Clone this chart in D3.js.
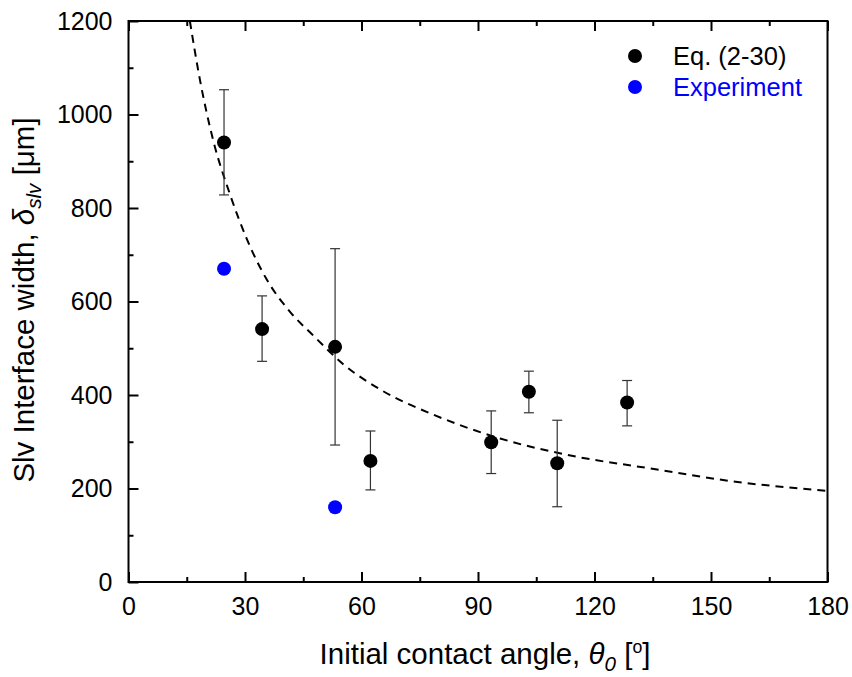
<!DOCTYPE html>
<html>
<head>
<meta charset="utf-8">
<script src="https://cdn.jsdelivr.net/npm/d3@7"></script>
<style>
  html, body { margin: 0; padding: 0; background: #fff; }
  svg { display: block; font-family: Arial, "Liberation Sans", sans-serif; }
</style>
</head>
<body>
<svg id="chart" width="852" height="677"></svg>
<script>
// ---- data ----
const eqTheta = [24.6, 34.4, 53.2, 62.3, 93.4, 103.1, 110.4, 128.4];
const eqValue = [940, 541, 503, 259, 299, 407, 254, 384];
const eqUpper = [1053, 612, 713, 323, 366, 451, 346, 431];
const eqLower = [828, 472, 293, 197, 232, 362, 161, 334];

const expTheta = [24.6, 53.2];
const expValue = [670, 160];

const curveTheta = [15.8, 18.4, 21.8, 26.1, 30.4, 35.6, 41.6, 47.6, 55.3, 65.6, 78.5, 95.7, 115.4, 134.3, 155.8, 180];
const curveValue = [1200, 1074, 945, 830, 735, 647, 578, 527, 466, 408, 358, 307, 268, 243, 215, 195];

const xTicks = [0, 30, 60, 90, 120, 150, 180];
const xMinorTicks = [15, 45, 75, 105, 135, 165];
const yTicks = [0, 200, 400, 600, 800, 1000, 1200];
const yMinorTicks = [100, 300, 500, 700, 900, 1100];

const legendLabels = ["Eq. (2-30)", "Experiment"];
const legendColors = ["#000000", "#0000ff"];

// ---- layout ----
const svg = d3.select("#chart");
const L = 128.5, R = 827.5, T = 21, B = 582;
const x = d3.scaleLinear().domain([0, 180]).range([L, R]);
const y = d3.scaleLinear().domain([0, 1200]).range([B, T]);

svg.append("defs").append("clipPath").attr("id", "clip")
  .append("rect").attr("x", L).attr("y", T).attr("width", R - L).attr("height", B - T);

const tickFont = 25;
const FF = "Arial, 'Liberation Sans', sans-serif";

// bottom axis
const xAxis = svg.append("g").attr("transform", `translate(0,${B})`)
  .call(d3.axisBottom(x).tickValues(xTicks).tickSize(-10).tickPadding(15).tickFormat(d3.format("d")));
xAxis.select(".domain").remove();
xAxis.selectAll("line").attr("stroke", "#000").attr("stroke-width", 2);
xAxis.selectAll("text").attr("font-size", tickFont).attr("fill", "#000").attr("font-family", FF);
const xAxisMinor = svg.append("g").attr("transform", `translate(0,${B})`)
  .call(d3.axisBottom(x).tickValues(xMinorTicks).tickSize(-5).tickFormat(""));
xAxisMinor.select(".domain").remove();
xAxisMinor.selectAll("line").attr("stroke", "#000").attr("stroke-width", 2);

// top axis ticks (no labels)
const xTop = svg.append("g").attr("transform", `translate(0,${T})`)
  .call(d3.axisTop(x).tickValues(xTicks).tickSize(-10).tickFormat(""));
xTop.select(".domain").remove();
xTop.selectAll("line").attr("stroke", "#000").attr("stroke-width", 2);
const xTopMinor = svg.append("g").attr("transform", `translate(0,${T})`)
  .call(d3.axisTop(x).tickValues(xMinorTicks).tickSize(-5).tickFormat(""));
xTopMinor.select(".domain").remove();
xTopMinor.selectAll("line").attr("stroke", "#000").attr("stroke-width", 2);

// left axis
const yAxis = svg.append("g").attr("transform", `translate(${L},0)`)
  .call(d3.axisLeft(y).tickValues(yTicks).tickSize(-10).tickPadding(16).tickFormat(d3.format("d")));
yAxis.select(".domain").remove();
yAxis.selectAll("line").attr("stroke", "#000").attr("stroke-width", 2);
yAxis.selectAll("text").attr("font-size", tickFont).attr("fill", "#000").attr("font-family", FF);
const yAxisMinor = svg.append("g").attr("transform", `translate(${L},0)`)
  .call(d3.axisLeft(y).tickValues(yMinorTicks).tickSize(-5).tickFormat(""));
yAxisMinor.select(".domain").remove();
yAxisMinor.selectAll("line").attr("stroke", "#000").attr("stroke-width", 2);

// frame
svg.append("rect").attr("x", L).attr("y", T).attr("width", R - L).attr("height", B - T)
  .attr("fill", "none").attr("stroke", "#000").attr("stroke-width", 2);

// dashed curve
const line = d3.line().x((d, i) => x(curveTheta[i])).y(d => y(d)).curve(d3.curveMonotoneX);
svg.append("path").attr("clip-path", "url(#clip)")
  .attr("d", line(curveValue))
  .attr("fill", "none").attr("stroke", "#000").attr("stroke-width", 2)
  .attr("stroke-dasharray", "8,6");

// error bars
const eb = svg.append("g").attr("stroke", "#333").attr("stroke-width", 1.2);
eqTheta.forEach((t, i) => {
  eb.append("line").attr("x1", x(t)).attr("x2", x(t)).attr("y1", y(eqUpper[i])).attr("y2", y(eqLower[i]));
  eb.append("line").attr("x1", x(t) - 5).attr("x2", x(t) + 5).attr("y1", y(eqUpper[i])).attr("y2", y(eqUpper[i]));
  eb.append("line").attr("x1", x(t) - 5).attr("x2", x(t) + 5).attr("y1", y(eqLower[i])).attr("y2", y(eqLower[i]));
});

// points
svg.append("g").selectAll("circle").data(eqValue).join("circle")
  .attr("cx", (d, i) => x(eqTheta[i])).attr("cy", d => y(d)).attr("r", 7).attr("fill", legendColors[0]);
svg.append("g").selectAll("circle").data(expValue).join("circle")
  .attr("cx", (d, i) => x(expTheta[i])).attr("cy", d => y(d)).attr("r", 7).attr("fill", legendColors[1]);

// legend
const lg = svg.append("g");
legendLabels.forEach((lab, i) => {
  const ly = 56 + i * 31;
  lg.append("circle").attr("cx", 635).attr("cy", ly).attr("r", 7).attr("fill", legendColors[i]);
  lg.append("text").attr("x", 673).attr("y", ly).attr("dy", "0.35em")
    .attr("font-size", 25.5).attr("fill", legendColors[i]).text(lab);
});

// x title
const titleFont = 29.5;
const xt = svg.append("text").attr("x", 485).attr("y", 664).attr("text-anchor", "middle")
  .attr("font-size", titleFont).attr("fill", "#000");
xt.append("tspan").text("Initial contact angle, ");
xt.append("tspan").attr("font-style", "italic").text("θ");
xt.append("tspan").attr("font-style", "italic").attr("font-size", titleFont * 0.7).attr("dy", 7).text("0");
xt.append("tspan").attr("dy", -7).text(" [");
xt.append("tspan").attr("font-size", titleFont * 0.6).attr("dy", -11).text("o");
xt.append("tspan").attr("dy", 11).text("]");

// y title
const yt = svg.append("text").attr("transform", `translate(34,${300}) rotate(-90)`)
  .attr("text-anchor", "middle").attr("font-size", titleFont).attr("fill", "#000");
yt.append("tspan").text("Slv Interface width, ");
yt.append("tspan").attr("font-style", "italic").text("δ");
yt.append("tspan").attr("font-style", "italic").attr("font-size", titleFont * 0.7).attr("dy", 7).text("slv");
yt.append("tspan").attr("dy", -7).text(" [μm]");
</script>
</body>
</html>
